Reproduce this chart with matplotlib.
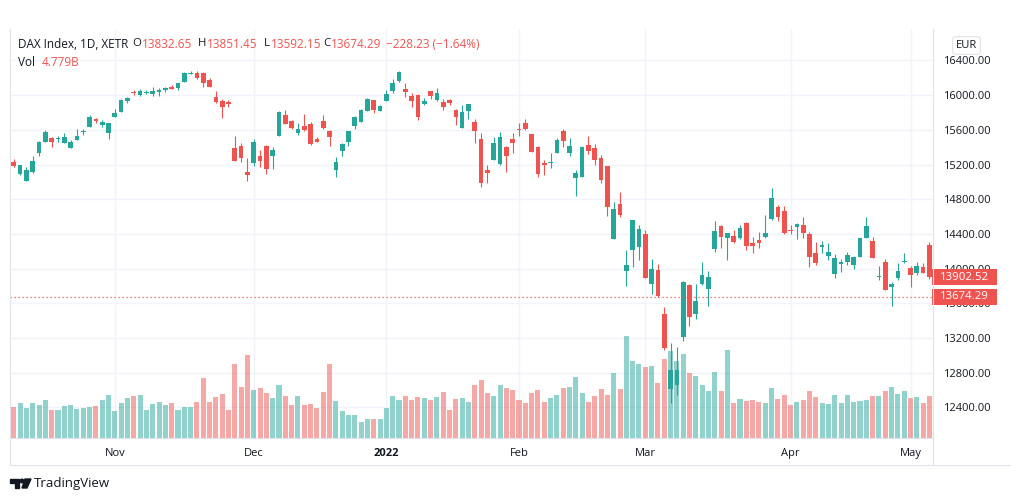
import numpy as np
import pandas as pd
import matplotlib
matplotlib.use('Agg')
import matplotlib.pyplot as plt
from matplotlib.patches import Rectangle, Polygon, Circle
from matplotlib.transforms import Affine2D, blended_transform_factory

plt.rcParams['font.family'] = ['Open Sans', 'DejaVu Sans']

# daily candles, DAX (XETR)
opens = [15230, 15092, 15014, 15118, 15330, 15460, 15510, 15498, 15452, 15395,
         15487, 15576, 15637, 15722, 15656, 15568, 15752, 15810, 15937, 16037,
         15999, 16029, 16010, 16041, 16060, 16098, 16079, 16156, 16248, 16260,
         16260, 16175, 15979, 15933, 15918, 15388, 15418, 15115, 15222, 15299,
         15414, 15303, 15530, 15772, 15703, 15561, 15645, 15668, 15498, 15703,
         15587, 15141, 15360, 15464, 15645, 15694, 15821, 15945, 15821, 15937,
         16048, 16160, 16071, 15991, 16002, 15898, 16048, 15945, 15925, 15945,
         15829, 15626, 15818, 15691, 15491, 15138, 15253, 15207, 15406, 15495,
         15610, 15676, 15553, 15406, 15222, 15215, 15337, 15591, 15337, 15046,
         15061, 15426, 15391, 15280, 15184, 14346, 14742, 13977, 14216, 14254,
         14400, 13823, 13985, 13478, 12610, 12660, 13207, 13813, 13474, 13820,
         13762, 14227, 14492, 14357, 14377, 14350, 14530, 14300, 14331, 14362,
         14569, 14708, 14665, 14446, 14485, 14504, 14400, 14185, 14254, 14146,
         13939, 14054, 14081, 14043, 14139, 14357, 14323, 13900, 14081, 13785,
         13896, 14081, 14004, 13946, 14016, 14270]
highs = [15264, 15200, 15176, 15299, 15470, 15599, 15522, 15530, 15561, 15483,
         15610, 15610, 15772, 15734, 15714, 15683, 15837, 15953, 15976, 16060,
         16068, 16060, 16091, 16079, 16098, 16117, 16140, 16267, 16283, 16275,
         16271, 16194, 16048, 15953, 15945, 15530, 15446, 15276, 15498, 15368,
         15420, 15406, 15822, 15829, 15714, 15676, 15783, 15691, 15514, 15775,
         15599, 15284, 15446, 15590, 15760, 15841, 15968, 15950, 15887, 16060,
         16187, 16283, 16140, 16029, 16008, 15964, 16052, 16079, 15953, 15953,
         15837, 15887, 15900, 15722, 15568, 15195, 15514, 15575, 15414, 15560,
         15676, 15725, 15558, 15414, 15253, 15330, 15503, 15610, 15503, 15138,
         15414, 15530, 15437, 15307, 15188, 14772, 14888, 14216, 14565, 14503,
         14446, 14108, 14054, 13563, 13140, 13094, 13855, 13824, 13824, 14077,
         13977, 14550, 14503, 14410, 14446, 14503, 14542, 14362, 14427, 14619,
         14926, 14734, 14723, 14503, 14523, 14592, 14427, 14311, 14319, 14300,
         14169, 14108, 14196, 14142, 14352, 14592, 14362, 14031, 14108, 13850,
         14069, 14185, 14031, 14081, 14062, 14310]
lows = [15169, 15085, 15010, 15106, 15299, 15455, 15406, 15460, 15445, 15390,
        15480, 15538, 15630, 15676, 15637, 15492, 15745, 15805, 15914, 15999,
        15995, 16010, 15991, 15991, 16037, 16068, 16060, 16150, 16241, 16190,
        16091, 16091, 15914, 15741, 15860, 15240, 15233, 15014, 15184, 15169,
        15092, 15146, 15525, 15665, 15610, 15541, 15584, 15430, 15455, 15607,
        15418, 15061, 15302, 15418, 15610, 15690, 15815, 15798, 15815, 15930,
        16029, 16155, 15983, 15867, 15714, 15883, 15953, 15933, 15829, 15891,
        15656, 15620, 15729, 15453, 14945, 14984, 15250, 15200, 15118, 15330,
        15530, 15600, 15345, 15061, 15077, 15157, 15333, 15406, 15299, 14838,
        15055, 15322, 15195, 14991, 14607, 14340, 14592, 13800, 14023, 14100,
        13890, 13708, 13677, 13063, 12448, 12544, 13170, 13337, 13417, 13815,
        13570, 14189, 14242, 14100, 14292, 14345, 14216, 14185, 14235, 14357,
        14565, 14554, 14403, 14396, 14339, 14350, 14023, 14043, 14177, 14100,
        13889, 13965, 14043, 13993, 14135, 14352, 14122, 13870, 13750, 13570,
        13870, 14062, 13785, 13924, 13946, 13880]
closes = [15184, 15195, 15138, 15242, 15460, 15579, 15460, 15510, 15522, 15460,
          15530, 15591, 15752, 15699, 15694, 15676, 15798, 15945, 15964, 16025,
          16048, 16041, 16048, 16060, 16079, 16075, 16137, 16252, 16260, 16202,
          16144, 16098, 15925, 15867, 15902, 15245, 15273, 15084, 15460, 15245,
          15153, 15368, 15810, 15671, 15622, 15610, 15599, 15437, 15460, 15618,
          15522, 15226, 15437, 15587, 15749, 15829, 15956, 15829, 15875, 16014,
          16140, 16267, 16037, 15937, 15752, 15937, 15994, 16025, 15867, 15906,
          15752, 15803, 15898, 15591, 14991, 15107, 15445, 15514, 15299, 15445,
          15599, 15607, 15349, 15088, 15192, 15234, 15483, 15476, 15414, 15100,
          15406, 15360, 15253, 15022, 14715, 14688, 14619, 14043, 14561, 14461,
          13896, 13993, 13685, 13082, 12832, 12832, 13850, 13441, 13628, 13924,
          13908, 14434, 14369, 14407, 14304, 14465, 14265, 14265, 14292, 14415,
          14811, 14592, 14408, 14434, 14515, 14415, 14139, 14069, 14273, 14196,
          14120, 14081, 14158, 14139, 14350, 14492, 14127, 13919, 13755, 13824,
          13977, 14093, 13927, 14031, 13954, 13902.52]
# volume, millions
volumes = [1880, 2120, 1820, 2120, 2000, 2300, 1700, 1700, 1940, 2000,
           1760, 1820, 1880, 1940, 2300, 2600, 1640, 2120, 2420, 2540,
           2600, 1700, 2060, 2180, 2000, 2120, 1700, 1880, 1880, 2180,
           3620, 2180, 2480, 2660, 1700, 4460, 3080, 5000, 2900, 3020,
           2720, 2420, 3200, 2540, 2000, 2540, 2000, 2060, 1820, 2780,
           4460, 2240, 1640, 1400, 1400, 980, 1160, 1160, 1160, 1820,
           2540, 2300, 2540, 2300, 2480, 2420, 2300, 2480, 2780, 1700,
           2360, 2420, 2180, 3200, 3500, 2720, 2540, 3200, 3020, 2900,
           2300, 2120, 2720, 2900, 2180, 2420, 2600, 3020, 3080, 3680,
           2720, 2180, 2540, 2960, 2600, 3920, 2960, 6140, 4640, 4460,
           4280, 4340, 3320, 4760, 5240, 4640, 5060, 3920, 3740, 3200,
           2840, 3980, 2840, 5300, 2120, 2360, 2240, 2300, 2180, 2120,
           3020, 2360, 2600, 2000, 2180, 2300, 2840, 2480, 2120, 2060,
           2600, 2120, 2600, 2180, 2240, 2300, 2540, 2540, 2840, 3080,
           2660, 2840, 2420, 2480, 2120, 2540]

holidays = ['2021-12-24', '2021-12-31', '2022-04-15', '2022-04-18']
dates = pd.bdate_range('2021-10-08', '2022-05-05', freq='C', holidays=holidays)

price_ticks = np.arange(12400, 16401, 400)
prev_close = 13902.52
last_price = 13674.29

up = '#26a69a'
down = '#ef5350'
txt = '#131722'
line_c = '#e0e3eb'

W, H = 1012, 501
fig = plt.figure(figsize=(W / 100, H / 100), dpi=100)
fig.patch.set_facecolor('white')
px = Affine2D().scale(1 / W, -1 / H).translate(0, 1) + fig.transFigure

x = np.arange(len(closes))
o = np.array(opens, dtype=float)
c = np.array(closes, dtype=float)
colors = np.where(c >= o, up, down)

rect = [10 / W, 63 / H, 923 / W, 409 / H]
ax = fig.add_axes(rect)
axv = ax.twinx()
axc = ax.twinx()

# grid / scales
ax.set_xlim(-0.6, 145.56)
ax.set_ylim(12048, 16763)
ax.grid(True, color='#f0f3fa', lw=1)
month_start = [i for i in range(1, len(dates)) if dates[i].month != dates[i - 1].month]
month_lab = [str(dates[i].year) if dates[i].month == 1 else dates[i].strftime('%b') for i in month_start]
ax.set_xticks(month_start)
ax.set_xticklabels(month_lab)
for lab in ax.get_xticklabels():
    if lab.get_text() == '2022':
        lab.set_fontweight('bold')
ax.tick_params(axis='x', length=0, pad=7, labelsize=8, labelcolor=txt)
ax.set_yticks(price_ticks)
ax.set_yticklabels(['{:.2f}'.format(t) for t in price_ticks])
ax.yaxis.tick_right()
ax.tick_params(axis='y', length=0, pad=7.3, labelsize=8, labelcolor=txt)
for a in (ax, axv, axc):
    for s in a.spines.values():
        s.set_visible(False)

# volume
axv.set_ylim(0, 24540)
axv.bar(x, volumes, width=0.8, color=colors, alpha=0.5, linewidth=0)
axv.set_yticks([])

# candles
axc.set_ylim(ax.get_ylim())
axc.set_yticks([])
axc.vlines(x, lows, highs, colors=colors, lw=0.8)
body_low = np.minimum(o, c)
body_h = np.maximum(np.abs(c - o), 8)
axc.bar(x, body_h, bottom=body_low, width=0.74, color=colors, linewidth=0)
axc.axhline(last_price, color=down, lw=0.9, ls=(0, (1, 2.2)))

# price labels on the axis
bt = blended_transform_factory(fig.transFigure, axc.transData)
for p in (prev_close, last_price):
    axc.add_patch(Rectangle((932 / W, p - 92), 65 / W, 184, transform=bt,
                            facecolor=down, edgecolor='none', clip_on=False, zorder=10))
    axc.text(964.5 / W, p, '{:.2f}'.format(p), transform=bt, ha='center', va='center',
             color='white', fontsize=8.2, clip_on=False, zorder=11)

# frame
for (x0, y0, x1, y1) in [(10, 29, 10, 465), (10, 465, 1012, 465), (933, 29, 933, 465), (10, 438, 933, 438)]:
    fig.add_artist(plt.Line2D([x0, x1], [y0, y1], transform=px, color=line_c, lw=0.8))

# header: letter just left of its value
fig.text(18, 44, 'DAX Index, 1D, XETR', transform=px, va='center', fontsize=8.5, color=txt)
for (xp, letter, val) in [(142, 'O', '13832.65'), (207, 'H', '13851.45'),
                          (270.5, 'L', '13592.15'), (331, 'C', '13674.29')]:
    fig.text(xp - 0.5, 44, letter, transform=px, ha='right', va='center', fontsize=8.2, color=txt)
    fig.text(xp, 44, val, transform=px, va='center', fontsize=8.5, color=down)
fig.text(386.5, 44, '\u2212228.23 (\u22121.64%)', transform=px, va='center', fontsize=8.5, color=down)
fig.text(18, 62, 'Vol', transform=px, va='center', fontsize=8.5, color=txt)
fig.text(42, 62, '4.779B', transform=px, va='center', fontsize=8.5, color=down)
fig.text(966.5, 45.5, 'EUR', transform=px, ha='center', va='center', fontsize=8, color=txt,
         bbox=dict(boxstyle='round,pad=0.3,rounding_size=0.3', fc='white', ec=line_c, lw=0.8))

# logo
fig.add_artist(Polygon([(10, 479), (19, 479), (19, 488), (15, 488), (15, 483), (10, 483)],
                       closed=True, transform=px, color=txt))
fig.add_artist(Circle((22, 481), 1.8, transform=px, color=txt))
fig.add_artist(Polygon([(25, 479), (31, 479), (27, 488), (22, 488)], closed=True, transform=px, color=txt))
fig.text(34, 483.5, 'TradingView', transform=px, va='center', fontsize=9.5, color=txt)

fig.savefig('out.png', dpi=100)
